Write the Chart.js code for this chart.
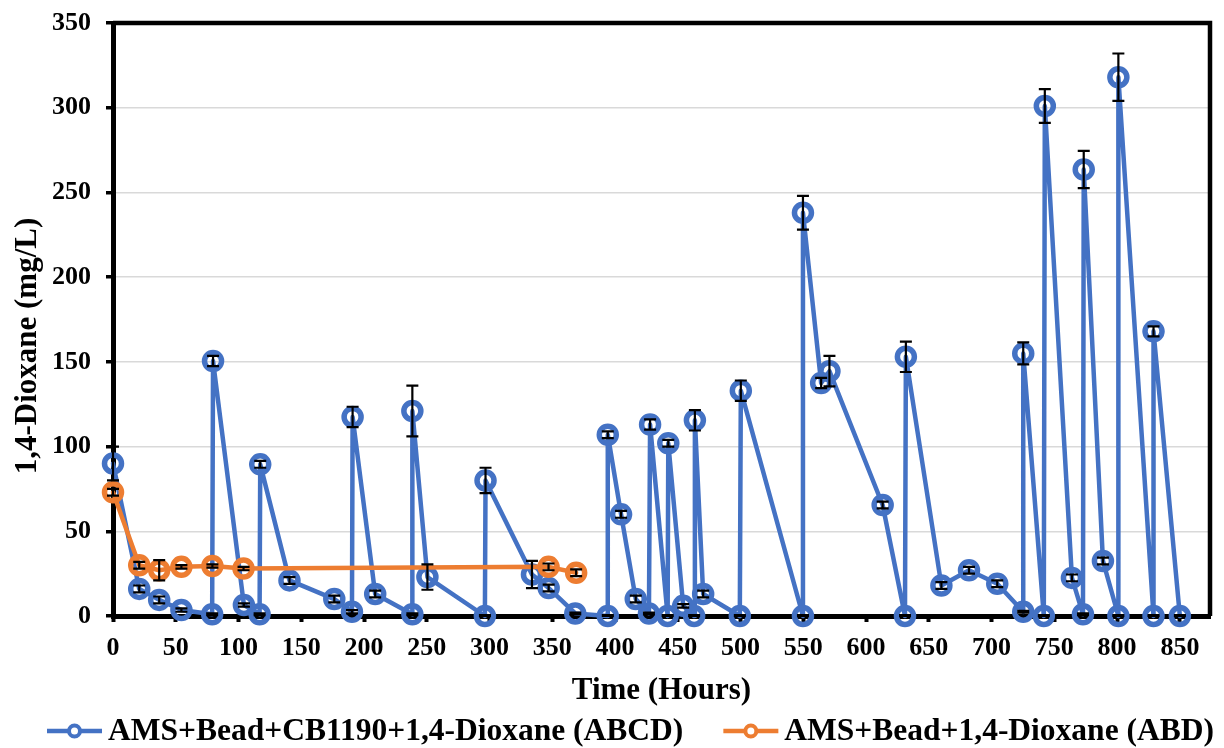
<!DOCTYPE html>
<html>
<head>
<meta charset="utf-8">
<script src="https://cdn.jsdelivr.net/npm/chart.js@4.4.1/dist/chart.umd.min.js"></script>
<style>
html,body{margin:0;padding:0;background:#fff;}
#wrap{width:1224px;height:748px;position:relative;}
</style>
</head>
<body>
<div id="wrap"><canvas id="c"></canvas></div>
<script>
// ---- Data ----
const seriesLabels = ['AMS+Bead+CB1190+1,4-Dioxane (ABCD)', 'AMS+Bead+1,4-Dioxane (ABD)'];
const xAxisTitle = 'Time (Hours)';
const yAxisTitle = '1,4-Dioxane (mg/L)';

const abcdHours = [0, 20.9, 36.8, 54.5, 79, 79.7, 104.3, 116.8, 117.3, 140.6, 176.3, 190.4, 190.9, 208.9,
  238.5, 238.5, 250.5, 296.3, 296.8, 333.8, 347.1, 368.3, 394.2, 394.2, 404.8, 416.5, 427, 427.9,
  441.9, 442.4, 454.3, 463, 463.6, 470.2, 499.4, 500.2, 549.7, 549.7, 564.2, 570.8, 613.2, 631,
  631.7, 660, 682, 704.5, 725.2, 725.2, 741.6, 742.4, 764, 772.8, 773.4, 788.7, 801, 801, 829, 829, 850];
const abcdDioxane = [90, 16, 9.5, 3.5, 1, 150.5, 6.5, 1, 89.5, 21, 10, 2.5, 117.5, 13,
  1, 121, 23, 0, 80, 24.5, 16.5, 1.5, 0, 107, 60, 10, 1.5, 113,
  0, 102, 6, 0, 115.5, 13, 0, 133, 0, 238, 137.5, 144.5, 65.5, 0,
  153, 18, 27, 19, 2.5, 155, 0, 301, 22.5, 1, 263.5, 32.5, 0, 318, 0, 168, 0];
const abcdError = [10, 2, 2, 1, 0.5, 3, 1, 0.5, 2, 2, 2, 1, 6, 2,
  0.5, 15, 7.5, 0.5, 7.5, 8, 2, 0.5, 0.5, 2, 2, 2, 0.5, 3,
  0.5, 2, 1, 0.5, 6, 2, 0.5, 6, 0.5, 10, 3, 9, 2, 0.5,
  9, 2, 2, 2, 0.5, 6.5, 0.5, 10, 2, 0.5, 11, 2, 0.5, 14, 0.5, 3, 0.5];

const abdHours = [0, 20.9, 36.8, 54.5, 79.2, 104, 347, 369];
const abdDioxane = [73, 30, 27, 29, 29.5, 28, 29, 25.5];
const abdError = [2, 2, 6, 1, 1, 1, 2, 2];

const xMin = 0, xMax = 874, xStep = 50;
const yMin = 0, yMax = 350, yStep = 50;

const BLUE = '#4472C4';
const ORANGE = '#ED7D31';
const FONT = "'Liberation Serif', 'Times New Roman', serif";

function toPoints(xs, ys) { return xs.map((x, i) => ({x: x, y: ys[i]})); }

// ---- Plugins ----
const errorBars = {
  id: 'errorBars',
  afterDatasetsDraw(chart) {
    const ctx = chart.ctx, xs = chart.scales.x, ys = chart.scales.y;
    ctx.save();
    ctx.strokeStyle = '#000';
    ctx.lineWidth = 2.2;
    chart.data.datasets.forEach((ds) => {
      if (!ds.errors) return;
      ds.data.forEach((p, j) => {
        const e = ds.errors[j];
        if (!e) return;
        const px = xs.getPixelForValue(p.x);
        const pt = ys.getPixelForValue(p.y + e);
        const pb = ys.getPixelForValue(Math.max(0, p.y - e));
        ctx.beginPath();
        ctx.moveTo(px, pt); ctx.lineTo(px, pb);
        ctx.moveTo(px - 6, pt); ctx.lineTo(px + 6, pt);
        ctx.moveTo(px - 6, pb); ctx.lineTo(px + 6, pb);
        ctx.stroke();
      });
    });
    ctx.restore();
  }
};

const frame = {
  id: 'frame',
  beforeDatasetsDraw(chart) {
    const {ctx, chartArea: a} = chart;
    ctx.save();
    ctx.strokeStyle = '#000';
    ctx.lineWidth = 4.5;
    ctx.beginPath();
    ctx.moveTo(a.left, a.top);
    ctx.lineTo(a.right, a.top);
    ctx.lineTo(a.right, a.bottom);
    ctx.stroke();
    ctx.restore();
  }
};

const extraText = {
  id: 'extraText',
  afterDraw(chart) {
    const ctx = chart.ctx;
    ctx.save();
    // y axis title
    ctx.fillStyle = '#000';
    ctx.font = 'bold 31px ' + FONT;
    ctx.textAlign = 'center';
    ctx.textBaseline = 'middle';
    ctx.translate(28, 346);
    ctx.rotate(-Math.PI / 2);
    ctx.fillText(yAxisTitle, 0, 0);
    ctx.restore();

    // legend
    ctx.save();
    ctx.font = 'bold 31.5px ' + FONT;
    const lineLen = 55, gapText = 6, gapItem = 40;
    let x = 47;
    const y = 731;
    chart.data.datasets.forEach(ds => {
      const w = ctx.measureText(ds.label).width;
      ctx.strokeStyle = ds.borderColor;
      ctx.lineWidth = 4.5;
      ctx.beginPath();
      ctx.moveTo(x, y); ctx.lineTo(x + lineLen, y);
      ctx.stroke();
      ctx.lineWidth = 4;
      ctx.beginPath();
      ctx.fillStyle = '#fff';
      ctx.arc(x + lineLen / 2, y, 5.5, 0, Math.PI * 2);
      ctx.fill();
      ctx.stroke();
      ctx.fillStyle = '#000';
      ctx.textAlign = 'left';
      ctx.textBaseline = 'middle';
      ctx.fillText(ds.label, x + lineLen + gapText, y + 1);
      x += lineLen + gapText + w + gapItem;
    });
    ctx.restore();
  }
};

// ---- Chart ----
const tickFont = {family: FONT, size: 26, weight: 'bold'};

function seriesStyle(color, order) {
  return {
    showLine: true,
    borderColor: color,
    borderWidth: 4.5,
    borderJoinStyle: 'round',
    borderCapStyle: 'round',
    pointRadius: 8.5,
    pointHoverRadius: 8.5,
    pointBorderWidth: 5.5,
    pointBorderColor: color,
    pointBackgroundColor: 'rgba(255,255,255,0)',
    tension: 0,
    clip: false,
    order: order
  };
}

new Chart(document.getElementById('c'), {
  type: 'scatter',
  data: {
    datasets: [
      Object.assign({label: seriesLabels[0], data: toPoints(abcdHours, abcdDioxane), errors: abcdError}, seriesStyle(BLUE, 1)),
      Object.assign({label: seriesLabels[1], data: toPoints(abdHours, abdDioxane), errors: abdError}, seriesStyle(ORANGE, 0))
    ]
  },
  options: {
    responsive: true,
    maintainAspectRatio: false,
    animation: false,
    devicePixelRatio: 1,
    layout: {padding: {left: 0, right: 10, top: 23, bottom: 42}},
    plugins: {
      legend: {display: false},
      tooltip: {enabled: false}
    },
    scales: {
      x: {
        type: 'linear',
        min: xMin, max: xMax,
        ticks: {stepSize: xStep, includeBounds: false, font: tickFont, color: '#000', padding: 11, maxRotation: 0, autoSkip: false},
        grid: {drawOnChartArea: false, drawTicks: true, tickLength: 6, tickWidth: 4, tickColor: '#000'},
        border: {display: true, color: '#000', width: 5},
        title: {display: true, text: xAxisTitle, color: '#000',
          font: {family: FONT, size: 31, weight: 'bold', lineHeight: 1}, padding: {top: 0, bottom: 0}},
        afterFit(s) { s.height = 90; s.paddingLeft = 0; s.paddingRight = 0; }
      },
      y: {
        type: 'linear',
        min: yMin, max: yMax,
        ticks: {stepSize: yStep, font: tickFont, color: '#000', padding: 15},
        grid: {color: '#D9D9D9', lineWidth: 1.5, drawTicks: true, tickLength: 7, tickWidth: 3.5, tickColor: '#000'},
        border: {display: true, color: '#000', width: 5},
        afterFit(s) { s.width = 113; s.paddingTop = 0; s.paddingBottom = 0; }
      }
    }
  },
  plugins: [frame, errorBars, extraText]
});
</script>
</body>
</html>
